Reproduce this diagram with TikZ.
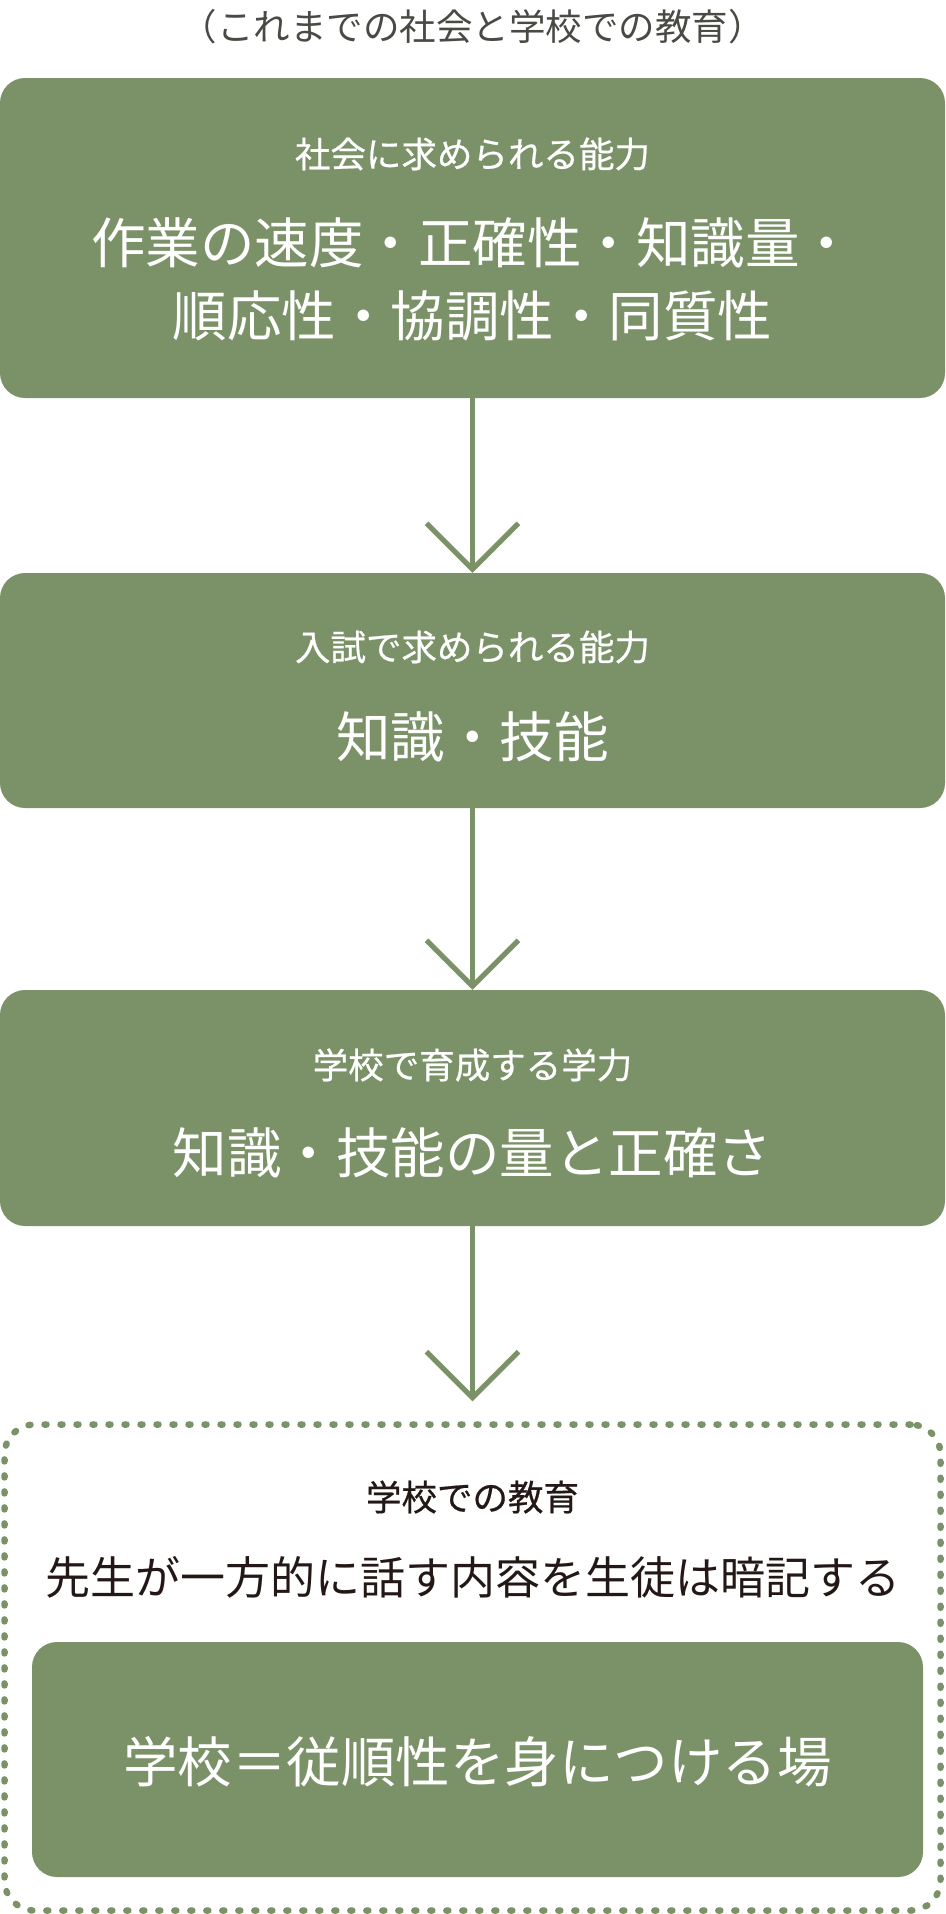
\documentclass[tikz,border=0pt]{standalone}
\usepackage{fontspec}
\setmainfont{Noto Sans CJK JP}
\newfontfamily\headfont[FakeBold=0.6]{Noto Sans CJK JP}
\usetikzlibrary{arrows.meta,positioning}
\definecolor{moss}{HTML}{7B9268}
\definecolor{note}{HTML}{4A4A44}
\definecolor{ink}{HTML}{231815}

\begin{document}
\begin{tikzpicture}[x=1pt,y=-1pt,
  box/.style={fill=moss,rounded corners=25pt,minimum width=945pt,inner sep=0pt},
  head/.style={font=\headfont\fontsize{35.5}{40}\selectfont,text=white},
  body/.style={font=\fontsize{54.5}{73}\selectfont,text=white,align=center},
  flow/.style={draw=moss,line width=5pt,-{Straight Barb[length=46pt,width=92pt]}},
]
  \useasboundingbox (0,0) rectangle (945,1914);

  \node[font=\fontsize{36.5}{40}\selectfont,text=note] (intro) at (472.5,27) {（これまでの社会と学校での教育）};

  % three green stages
  \node[box,minimum height=320pt] (society) at (472.5,238) {};
  \node[head] (societyhead) at (472.5,154) {社会に求められる能力};
  \node[body] (societybody) at (472.5,279) {作業の速度・正確性・知識量・\\順応性・協調性・同質性};

  \node[box,minimum height=235pt] (exam) at (472.5,690.5) {};
  \node[head] (examhead) at (472.5,647) {入試で求められる能力};
  \node[body] (exambody) at (472.5,737) {知識・技能};

  \node[box,minimum height=236pt] (training) at (472.5,1108) {};
  \node[head] (traininghead) at (472.5,1065) {学校で育成する学力};
  \node[body] (trainingbody) at (472.5,1153) {知識・技能の量と正確さ};

  % dotted frame with the result
  \node[draw=moss,line width=6.5pt,dash pattern=on 2pt off 14pt,line cap=round,
    rounded corners=30pt,minimum width=936pt,minimum height=486pt,inner sep=0pt] (frame) at (472.5,1667.5) {};
  \node[head,text=ink] (framehead) at (472.5,1497) {学校での教育};
  \node[font=\fontsize{45}{50}\selectfont,text=ink] (framebody) at (472.5,1577) {先生が一方的に話す内容を生徒は暗記する};
  \node[box,minimum width=891pt,minimum height=235pt] (result) at (477.5,1759.5) {};
  \node[body] (resulttext) at (477.5,1762) {学校＝従順性を身につける場};

  \draw[flow] (society.south) -- (exam.north);
  \draw[flow] (exam.south) -- (training.north);
  \draw[flow,shorten >=20pt] (training.south) -- (frame.north);
\end{tikzpicture}
\end{document}
